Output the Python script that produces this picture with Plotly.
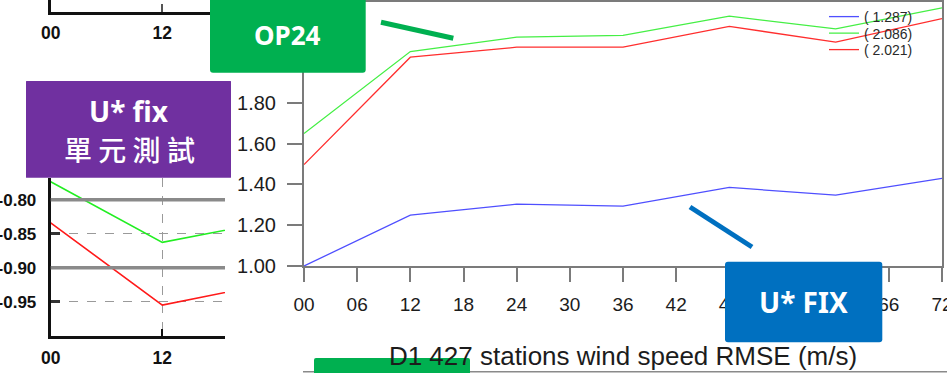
import numpy as np
import plotly.graph_objects as go

W, H = 947, 373

# Forecast hours and D1 wind-speed RMSE (m/s) per experiment
hours = [0, 12, 24, 36, 48, 60, 72]
tick_hours = [0, 6, 12, 18, 24, 30, 36, 42, 48, 54, 60, 66, 72]
tick_text = ["00", "06", "12", "18", "24", "30", "36", "42", "48", "54", "60", "66", "72"]

rmse_ustar = [1.000, 1.249, 1.303, 1.293, 1.385, 1.347, 1.429]
rmse_op24 = [1.649, 2.051, 2.121, 2.130, 2.224, 2.162, 2.265]
rmse_ctrl = [1.497, 2.023, 2.072, 2.072, 2.174, 2.097, 2.212]

# Side panel: score by forecast hour
score_hours = [0, 12, 24]
score_hour_text = ["00", "12", ""]
score_op24 = [-0.7735, -0.8627, -0.8310]
score_ctrl = [-0.8340, -0.9550, -0.9220]
score_ticks = [-0.95, -0.90, -0.85, -0.80]
score_tick_text = ["-0.95", "-0.90", "-0.85", "-0.80"]
score_levels = [-0.80, -0.90]

BLUE, GREEN, RED = "#4f4fff", "#45ef45", "#ff2e2e"
AXIS_GRAY = "#7b7b7b"
FONT = "Liberation Sans"


def px(x):
    return x / W


def py(y):
    return 1 - y / H


def rounded_rect(x0, y0, x1, y1, r):
    """SVG path (paper coords) for a rectangle with rounded corners, given in pixels."""
    pts = [
        f"M{px(x0 + r)},{py(y0)}",
        f"L{px(x1 - r)},{py(y0)}",
        f"Q{px(x1)},{py(y0)} {px(x1)},{py(y0 + r)}",
        f"L{px(x1)},{py(y1 - r)}",
        f"Q{px(x1)},{py(y1)} {px(x1 - r)},{py(y1)}",
        f"L{px(x0 + r)},{py(y1)}",
        f"Q{px(x0)},{py(y1)} {px(x0)},{py(y1 - r)}",
        f"L{px(x0)},{py(y0 + r)}",
        f"Q{px(x0)},{py(y0)} {px(x0 + r)},{py(y0)}",
        "Z",
    ]
    return " ".join(pts)


fig = go.Figure()

# Main panel
for vals, color, leg in [(rmse_ustar, BLUE, "legend"),
                         (rmse_op24, GREEN, "legend2"),
                         (rmse_ctrl, RED, "legend3")]:
    fig.add_trace(go.Scatter(
        x=hours, y=vals, mode="lines", line=dict(color=color, width=1.3),
        name=f"( {np.mean(vals):.3f})", legend=leg, xaxis="x", yaxis="y",
        hoverinfo="skip"))

# Side panel
for vals, color in [(score_op24, "#22ee22"), (score_ctrl, "#ff1a1a")]:
    fig.add_trace(go.Scatter(
        x=score_hours, y=vals, mode="lines", line=dict(color=color, width=1.6),
        showlegend=False, xaxis="x2", yaxis="y2", hoverinfo="skip"))

# Upper side panel (only its bottom axis shows)
fig.add_trace(go.Scatter(x=[], y=[], showlegend=False, xaxis="x3", yaxis="y3"))

main_x = dict(
    domain=[px(304), px(942)], range=[0, 72], anchor="y", automargin=False,
    tickmode="array", tickvals=tick_hours, ticktext=tick_text,
    ticks="outside", ticklen=14, tickwidth=2, tickcolor=AXIS_GRAY,
    showline=True, linecolor=AXIS_GRAY, linewidth=2, mirror=True,
    showgrid=False, zeroline=False, ticklabeloverflow="allow",
    tickfont=dict(family=FONT, size=19, color="#1c1c1c"),
    ticklabelstandoff=6,
    title=dict(text="D1 427 stations wind speed RMSE (m/s)",
               font=dict(family=FONT, size=26, color="#1c1c1c"), standoff=33),
)
main_y = dict(
    domain=[py(266), py(1.5)], range=[1.0, 2.296], anchor="x", automargin=False,
    tick0=1.0, dtick=0.2, tickformat=".2f",
    ticks="outside", ticklen=15, tickwidth=2, tickcolor=AXIS_GRAY,
    showline=True, linecolor=AXIS_GRAY, linewidth=2, mirror=True,
    showgrid=False, zeroline=False,
    tickfont=dict(family=FONT, size=20, color="#1c1c1c"),
    ticklabelstandoff=7,
)
right_y = dict(
    overlaying="y", side="right", anchor="x", range=[1.0, 2.296], automargin=False,
    tick0=1.0, dtick=0.2, ticks="inside", ticklen=4, tickwidth=2,
    tickcolor=AXIS_GRAY, showticklabels=False, showline=False,
    showgrid=False, zeroline=False,
)
side_x = dict(
    domain=[px(50.7), px(225)], range=[0, 18.74], anchor="y2", automargin=False,
    tickmode="array", tickvals=score_hours, ticktext=score_hour_text,
    ticks="inside", ticklen=7, tickwidth=2, tickcolor="#111",
    showline=True, linecolor="#111", linewidth=3,
    showgrid=True, gridcolor="#9a9a9a", gridwidth=1, griddash="dash",
    zeroline=False,
    tickfont=dict(family=FONT, size=17.5, color="#111", weight="bold"),
    ticklabelstandoff=4,
)
side_y = dict(
    domain=[py(335.7), py(178)], range=[-1.0, -0.768], anchor="x2", automargin=False,
    tickmode="array", tickvals=score_ticks, ticktext=score_tick_text,
    ticks="inside", ticklen=9, tickwidth=3, tickcolor="#333",
    showline=True, linecolor="#111", linewidth=3,
    showgrid=True, gridcolor="#9a9a9a", gridwidth=1, griddash="dash",
    zeroline=False, ticklabeloverflow="allow",
    tickfont=dict(family=FONT, size=17, color="#111", weight="bold"),
    ticklabelstandoff=8,
)
top_x = dict(
    domain=[px(50.7), px(225)], range=[0, 18.74], anchor="y3", automargin=False,
    tickmode="array", tickvals=score_hours, ticktext=score_hour_text,
    ticks="inside", ticklen=8, tickwidth=2, tickcolor="#555",
    showline=True, linecolor="#111", linewidth=3,
    showgrid=False, zeroline=False,
    tickfont=dict(family=FONT, size=17.5, color="#111", weight="bold"),
    ticklabelstandoff=3,
)
top_y = dict(
    domain=[py(11.7), 1.0], range=[0, 1], anchor="x3", automargin=False,
    showline=True, linecolor="#111", linewidth=3, ticks="",
    showticklabels=False, showgrid=False, zeroline=False,
)

shapes = []
# solid reference levels in the side panel
for lvl in score_levels:
    shapes.append(dict(type="line", xref="x2 domain", yref="y2", x0=0, x1=1,
                       y0=lvl, y1=lvl, line=dict(color="#8a8a8a", width=3.5),
                       layer="above"))

# callout boxes and pointers
shapes += [
    dict(type="path", xref="paper", yref="paper",
         path=rounded_rect(26, 81, 231, 177.7, 0.5),
         fillcolor="#7030A0", line=dict(width=0), layer="above"),
    dict(type="path", xref="paper", yref="paper",
         path=rounded_rect(210, -4, 365.7, 72.7, 3),
         fillcolor="#00B050", line=dict(width=0), layer="above"),
    dict(type="line", xref="paper", yref="paper",
         x0=px(381), y0=py(22.3), x1=px(453.3), y1=py(38.3),
         line=dict(color="#00B050", width=5), layer="above"),
    dict(type="path", xref="paper", yref="paper",
         path=rounded_rect(725, 261.7, 882.3, 342.3, 3),
         fillcolor="#0070C0", line=dict(width=0), layer="above"),
    dict(type="line", xref="paper", yref="paper",
         x0=px(690), y0=py(207), x1=px(752), y1=py(247),
         line=dict(color="#0070C0", width=5), layer="above"),
    dict(type="line", xref="paper", yref="paper",
         x0=px(303), y0=py(371.8), x1=px(947), y1=py(371.8),
         line=dict(color="#8a8a8a", width=1.5), layer="above"),
    dict(type="path", xref="paper", yref="paper",
         path=rounded_rect(314, 358, 470, 380, 2),
         fillcolor="#00B050", line=dict(width=0), layer="above"),
]

BOX_FONT = "Noto Sans"
annotations = [
    dict(text="<b>OP24</b>", x=px(287.5), y=py(35.5), xref="paper", yref="paper",
         showarrow=False, xanchor="center", yanchor="middle",
         font=dict(family=BOX_FONT, size=26, color="white")),
    dict(text="<b>U* fix</b>", x=px(128.5), y=py(111), xref="paper", yref="paper",
         showarrow=False, xanchor="center", yanchor="middle",
         font=dict(family=BOX_FONT, size=28, color="white")),
    dict(text="單 元 測 試", x=px(129), y=py(149), xref="paper", yref="paper",
         showarrow=False, xanchor="center", yanchor="middle",
         font=dict(family="Noto Sans CJK TC", size=28, color="white", weight=500)),
    dict(text="<b>U* FIX</b>", x=px(803.5), y=py(302), xref="paper", yref="paper",
         showarrow=False, xanchor="center", yanchor="middle",
         font=dict(family=BOX_FONT, size=28, color="white")),
]

legend_common = dict(bgcolor="rgba(0,0,0,0)", borderwidth=0, xanchor="left",
                     yanchor="middle", font=dict(family=FONT, size=14, color="#2a2a2a"),
                     itemwidth=30, tracegroupgap=0)

fig.update_layout(
    width=W, height=H, autosize=False,
    margin=dict(l=0, r=0, t=0, b=0, pad=0),
    paper_bgcolor="white", plot_bgcolor="white",
    xaxis=main_x, yaxis=main_y, yaxis4=right_y,
    xaxis2=side_x, yaxis2=side_y,
    xaxis3=top_x, yaxis3=top_y,
    shapes=shapes, annotations=annotations,
    legend=dict(x=px(824), y=py(17), **legend_common),
    legend2=dict(x=px(824), y=py(33.5), **legend_common),
    legend3=dict(x=px(824), y=py(50), **legend_common),
)

fig.write_html("out.html")
